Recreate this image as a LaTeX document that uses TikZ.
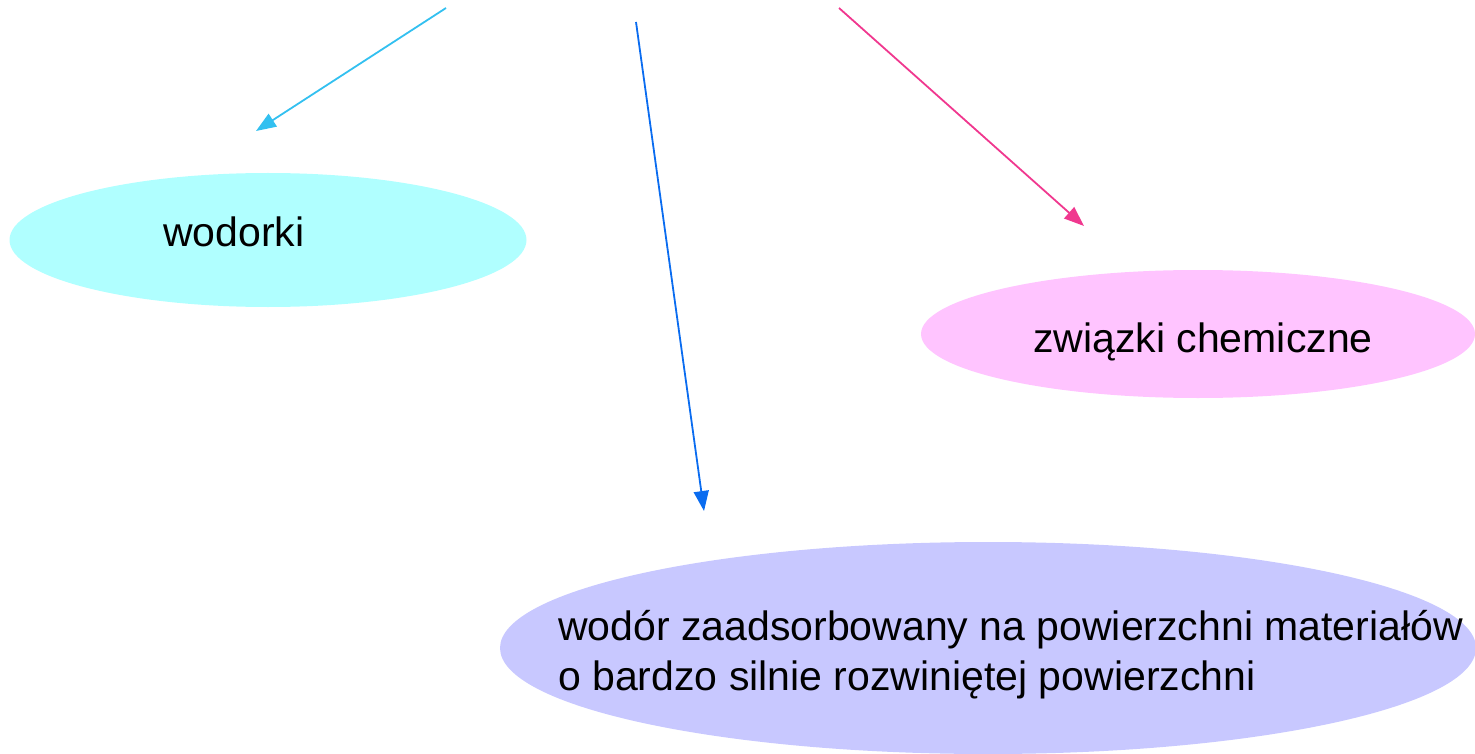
\documentclass[tikz,border=0pt]{standalone}
\usepackage{fontspec}
\setmainfont{Liberation Sans}
\usetikzlibrary{shapes.geometric,arrows.meta}
\definecolor{ecyan}{HTML}{B0FFFF}
\definecolor{epink}{HTML}{FFC4FF}
\definecolor{elav}{HTML}{C8C8FF}
\definecolor{acyan}{HTML}{33C0F0}
\definecolor{ablue}{HTML}{0A6CF0}
\definecolor{apink}{HTML}{F0388F}
\tikzset{
  blob/.style={ellipse, draw=none, inner sep=0pt},
  lbl/.style={font=\fontsize{41}{50}\selectfont, inner sep=0pt, anchor=base west, align=left},
  arr/.style={line width=1.8pt, -{Triangle[length=20pt,width=15pt]}}
}
\begin{document}
\begin{tikzpicture}[x=1pt,y=-1pt]
\useasboundingbox (0,0) rectangle (1475,754);
\node[blob, fill=ecyan, minimum width=517pt, minimum height=134pt] (e1) at (268,240) {};
\node[blob, fill=epink, minimum width=554pt, minimum height=128pt] (e2) at (1198,334) {};
\node[blob, fill=elav, minimum width=976pt, minimum height=212pt] (e3) at (988,648) {};
\node[lbl] (t1) at (163,247) {wodorki};
\node[lbl] (t2) at (1033,352) {związki chemiczne};
\node[lbl] (t3) at (558,690) {wodór zaadsorbowany na powierzchni materiałów\\o bardzo silnie rozwiniętej powierzchni};
\coordinate (s1) at (446,8);
\coordinate (d1) at (256,131);
\coordinate (s2) at (636,22);
\coordinate (d2) at (704,511);
\coordinate (s3) at (839,8);
\coordinate (d3) at (1084,226);
\draw[arr, draw=acyan, fill=acyan] (s1) -- (d1);
\draw[arr, draw=ablue, fill=ablue] (s2) -- (d2);
\draw[arr, draw=apink, fill=apink] (s3) -- (d3);
\end{tikzpicture}
\end{document}
